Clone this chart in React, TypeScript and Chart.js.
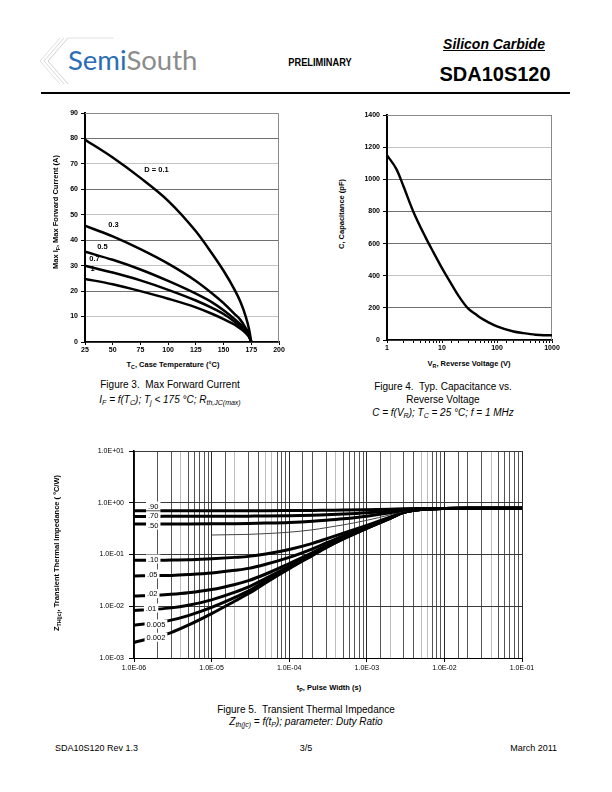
import React, { useEffect, useRef } from 'react';
import { Chart, registerables } from 'chart.js';
Chart.register(...registerables);

const FONT = '"Liberation Sans", Arial, Helvetica, sans-serif';

// ---------- Figure 3: Max forward current vs case temperature ----------
const T_CASE = [25, 50, 75, 100, 125, 140, 150, 160, 165, 170, 173, 175];
const IF_D01 = [79.5, 72.5, 64.5, 55.5, 43.5, 34.5, 28, 20.5, 16, 10, 5, 0];
const IF_D03 = [45.7, 41.5, 36.5, 30.8, 24, 19, 15.3, 11, 8.8, 5.5, 3, 0];
const IF_D05 = [35.5, 32.3, 28.5, 24, 19, 15.5, 12.5, 9, 7, 4.5, 2.5, 0];
const IF_D07 = [30, 27.3, 24.2, 20.5, 16.3, 13.3, 11, 8, 6.2, 4, 2.2, 0];
const IF_D1 = [24.8, 22.7, 20, 17, 13.6, 11, 9, 6.8, 5.3, 3.5, 2, 0];
const FIG3_LABELS = ['D = 0.1', '0.3', '0.5', '0.7', '1'];
const FIG3_LABEL_X = [78.5, 46, 36, 28.9, 30];
const FIG3_LABEL_Y = [67.6, 46, 37.5, 32.5, 28.6];

// ---------- Figure 4: Capacitance vs reverse voltage ----------
const V_REV = [1, 1.5, 2, 3, 5, 7, 10, 15, 20, 30, 40, 50, 70, 100, 200, 300, 500, 700, 1000];
const C_PF = [1150, 1060, 955, 800, 640, 545, 447, 345, 275, 195, 163, 138, 110, 85, 53, 43, 33, 30, 30];

// ---------- Figure 5: Transient thermal impedance ----------
const T_PULSE = [1e-6, 2e-6, 3e-6, 5e-6, 1e-5, 2e-5, 3e-5, 5e-5, 1e-4, 2e-4, 3e-4, 5e-4, 1e-3, 2e-3, 3e-3, 5e-3, 1e-2, 2e-2, 5e-2, 1e-1];
const Z_090 = [0.700, 0.700, 0.700, 0.701, 0.701, 0.702, 0.703, 0.704, 0.707, 0.711, 0.716, 0.722, 0.734, 0.752, 0.765, 0.774, 0.778, 0.78, 0.78, 0.78];
const Z_070 = [0.545, 0.545, 0.546, 0.546, 0.547, 0.549, 0.551, 0.554, 0.562, 0.575, 0.587, 0.606, 0.642, 0.696, 0.738, 0.767, 0.777, 0.78, 0.78, 0.78];
const Z_050 = [0.388, 0.389, 0.389, 0.390, 0.392, 0.395, 0.398, 0.404, 0.416, 0.438, 0.458, 0.490, 0.550, 0.640, 0.712, 0.758, 0.776, 0.78, 0.78, 0.78];
const Z_030 = [null, null, null, null, 0.238, 0.242, 0.245, 0.253, 0.270, 0.300, 0.330, 0.374, 0.458, 0.584, 0.686, 0.750, 0.775, 0.78, 0.78, 0.78];
const Z_010 = [0.077, 0.077, 0.078, 0.079, 0.083, 0.088, 0.092, 0.102, 0.125, 0.164, 0.200, 0.258, 0.366, 0.528, 0.663, 0.744, 0.775, 0.78, 0.78, 0.78];
const Z_005 = [0.0385, 0.0390, 0.0395, 0.0410, 0.0440, 0.0495, 0.054, 0.065, 0.088, 0.129, 0.167, 0.229, 0.343, 0.514, 0.656, 0.742, 0.775, 0.78, 0.78, 0.78];
const Z_002 = [0.0158, 0.0164, 0.0170, 0.0182, 0.0210, 0.0264, 0.0313, 0.0420, 0.067, 0.109, 0.148, 0.212, 0.330, 0.505, 0.652, 0.740, 0.775, 0.78, 0.78, 0.78];
const Z_001 = [0.0083, 0.0088, 0.0093, 0.0105, 0.0133, 0.0187, 0.0236, 0.0345, 0.059, 0.102, 0.141, 0.206, 0.325, 0.502, 0.650, 0.740, 0.775, 0.78, 0.78, 0.78];
const Z_0005 = [0.0043, 0.0049, 0.0054, 0.0066, 0.0095, 0.0148, 0.0198, 0.031, 0.056, 0.098, 0.138, 0.203, 0.322, 0.500, 0.650, 0.740, 0.775, 0.78, 0.78, 0.78];
const Z_0002 = [0.0020, 0.0026, 0.0031, 0.0043, 0.0072, 0.0126, 0.0176, 0.0285, 0.053, 0.096, 0.136, 0.200, 0.320, 0.500, 0.650, 0.740, 0.775, 0.78, 0.78, 0.78];
const DUTY_LABELS = ['.90', '.70', '.50', '.10', '.05', '.02', '.01', '0.005', '0.002'];
const DUTY_LABEL_T = [1.77e-6, 1.77e-6, 1.77e-6, 1.77e-6, 1.72e-6, 1.72e-6, 1.66e-6, 1.92e-6, 1.92e-6];
const DUTY_LABEL_Z = [0.865, 0.562, 0.372, 0.0818, 0.042, 0.0175, 0.00925, 0.00454, 0.00251];
const LIGHT_GRID_T = [4e-6, 2e-5, 5e-5, 6e-5, 4e-4, 2e-3, 5e-3, 6e-3, 4e-2];

// ---------- helpers ----------
const isDecade = (v: number) => {
  const l = Math.log10(v);
  return Math.abs(l - Math.round(l)) < 1e-6;
};
const near = (a: number, b: number) => Math.abs(a - b) / b < 1e-6;
const fmtE = (v: number) => {
  const e = Math.round(Math.log10(v));
  const a = Math.abs(e);
  return '1.0E' + (e >= 0 ? '+' : '-') + (a < 10 ? '0' : '') + a;
};

const series = (xs: number[], ys: (number | null)[], width = 2.5, color = '#000') => ({
  data: xs.map((x, i) => ({ x, y: ys[i] })),
  borderColor: color,
  borderWidth: width,
  pointRadius: 0,
  fill: false,
  cubicInterpolationMode: 'monotone',
  spanGaps: false,
});

const framePlugin = (color: string) => ({
  id: 'frame',
  beforeDatasetsDraw(chart: any) {
    const { ctx, chartArea: a } = chart;
    ctx.save();
    ctx.strokeStyle = color;
    ctx.lineWidth = 1;
    ctx.beginPath();
    ctx.moveTo(a.left, a.top + 0.5);
    ctx.lineTo(a.right - 0.5, a.top + 0.5);
    ctx.lineTo(a.right - 0.5, a.bottom);
    ctx.stroke();
    ctx.restore();
  },
});

const fig3Labels = {
  id: 'fig3labels',
  beforeDatasetsDraw(chart: any) {
    const { ctx, scales } = chart;
    ctx.save();
    ctx.font = 'bold 7.5px ' + FONT;
    ctx.fillStyle = '#000';
    ctx.textAlign = 'left';
    ctx.textBaseline = 'middle';
    FIG3_LABELS.forEach((t, i) => {
      ctx.fillText(t, scales.x.getPixelForValue(FIG3_LABEL_X[i]), scales.y.getPixelForValue(FIG3_LABEL_Y[i]));
    });
    ctx.restore();
  },
};

const fig5Labels = {
  id: 'fig5labels',
  afterDatasetsDraw(chart: any) {
    const { ctx, scales } = chart;
    ctx.save();
    ctx.font = '7.5px ' + FONT;
    ctx.textAlign = 'center';
    ctx.textBaseline = 'middle';
    DUTY_LABELS.forEach((t, i) => {
      const px = scales.x.getPixelForValue(DUTY_LABEL_T[i]);
      const py = scales.y.getPixelForValue(DUTY_LABEL_Z[i]);
      const w = ctx.measureText(t).width;
      ctx.fillStyle = '#fff';
      ctx.fillRect(px - w / 2 - 2, py - 4.5, w + 4, 9);
      ctx.fillStyle = '#000';
      ctx.fillText(t, px, py + 0.5);
    });
    ctx.restore();
  },
};

function ChartBox({ left, top, width, height, make }: any) {
  const ref = useRef<HTMLCanvasElement | null>(null);
  useEffect(() => {
    const c = new Chart(ref.current as HTMLCanvasElement, make());
    return () => c.destroy();
  }, []);
  return (
    <canvas
      ref={ref}
      width={width}
      height={height}
      style={{ position: 'absolute', left, top, width, height }}
    />
  );
}

const tickFontBold = { family: FONT, size: 7, weight: 'bold' };
const tickFont = { family: FONT, size: 7 };
const plain = (v: any) => String(v);

const makeFig3 = () => ({
  type: 'line',
  data: {
    datasets: [IF_D01, IF_D03, IF_D05, IF_D07, IF_D1].map((d) => series(T_CASE, d, 2.5)),
  },
  options: {
    animation: false,
    responsive: false,
    layout: { padding: { top: 8, right: 11, left: 0, bottom: 0 } },
    plugins: { legend: { display: false }, tooltip: { enabled: false } },
    scales: {
      x: {
        type: 'linear',
        min: 25,
        max: 200,
        ticks: { stepSize: 25, font: tickFontBold, color: '#000', padding: 1, maxRotation: 0, callback: plain },
        grid: { drawOnChartArea: false, tickLength: 3, tickColor: '#000' },
        border: { color: '#000', width: 1.5 },
        afterFit: (s: any) => { s.height = 13; },
      },
      y: {
        min: 0,
        max: 90,
        ticks: { stepSize: 10, font: tickFontBold, color: '#000', padding: 3, callback: plain },
        grid: {
          color: (c: any) => (Math.round(c.tick.value / 10) % 2 === 1 ? '#c4c4c4' : '#707070'),
          tickLength: 4,
          tickColor: '#000',
        },
        border: { color: '#000', width: 2 },
        afterFit: (s: any) => { s.width = 45; },
      },
    },
  },
  plugins: [framePlugin('#8a8a8a'), fig3Labels],
});

const makeFig4 = () => ({
  type: 'line',
  data: { datasets: [series(V_REV, C_PF, 2.4)] },
  options: {
    animation: false,
    responsive: false,
    layout: { padding: { top: 10, right: 13, left: 0, bottom: 0 } },
    plugins: { legend: { display: false }, tooltip: { enabled: false } },
    scales: {
      x: {
        type: 'logarithmic',
        min: 1,
        max: 1000,
        ticks: {
          autoSkip: false,
          maxRotation: 0,
          font: tickFontBold,
          color: '#000',
          padding: 1,
          callback: (v: any) => (isDecade(Number(v)) ? String(Math.round(Number(v))) : ''),
        },
        grid: { drawOnChartArea: false, tickLength: 3, tickColor: '#000' },
        border: { color: '#000', width: 1.5 },
        afterFit: (s: any) => { s.height = 15; },
      },
      y: {
        min: 0,
        max: 1400,
        ticks: { stepSize: 200, font: tickFontBold, color: '#000', padding: 3, callback: plain },
        grid: {
          color: (c: any) => (c.tick.value === 400 || c.tick.value === 1200 ? '#c4c4c4' : '#707070'),
          tickLength: 4,
          tickColor: '#000',
        },
        border: { color: '#000', width: 2 },
        afterFit: (s: any) => { s.width = 37; },
      },
    },
  },
  plugins: [framePlugin('#8a8a8a')],
});

const makeFig5 = () => ({
  type: 'line',
  data: {
    datasets: [
      series(T_PULSE, Z_090, 3),
      series(T_PULSE, Z_070, 3),
      series(T_PULSE, Z_050, 3),
      series(T_PULSE, Z_030, 1, '#444'),
      series(T_PULSE, Z_010, 3),
      series(T_PULSE, Z_005, 3),
      series(T_PULSE, Z_002, 3),
      series(T_PULSE, Z_001, 3),
      series(T_PULSE, Z_0005, 3),
      series(T_PULSE, Z_0002, 3),
    ],
  },
  options: {
    animation: false,
    responsive: false,
    layout: { padding: { top: 11, right: 18, left: 0, bottom: 0 } },
    plugins: { legend: { display: false }, tooltip: { enabled: false } },
    scales: {
      x: {
        type: 'logarithmic',
        min: 1e-6,
        max: 1e-1,
        ticks: {
          autoSkip: false,
          maxRotation: 0,
          font: tickFont,
          color: '#000',
          padding: 2,
          callback: (v: any) => (isDecade(Number(v)) ? fmtE(Number(v)) : ''),
        },
        grid: {
          color: (c: any) => {
            const v = c.tick.value;
            if (isDecade(v)) return '#2a2a2a';
            if (LIGHT_GRID_T.some((t) => near(v, t))) return '#bdbdbd';
            return '#555';
          },
          lineWidth: 1,
          tickLength: 4,
          tickColor: (c: any) => (isDecade(c.tick.value) ? '#000' : 'rgba(0,0,0,0)'),
        },
        border: { color: '#000', width: 1 },
        afterFit: (s: any) => { s.height = 17; },
      },
      y: {
        type: 'logarithmic',
        min: 1e-3,
        max: 10,
        ticks: {
          autoSkip: false,
          font: tickFont,
          color: '#000',
          padding: 5,
          callback: (v: any) => (isDecade(Number(v)) ? fmtE(Number(v)) : ''),
        },
        grid: {
          color: (c: any) => (isDecade(c.tick.value) ? '#3a3a3a' : 'rgba(0,0,0,0)'),
          tickLength: 5,
          tickColor: (c: any) => (isDecade(c.tick.value) ? '#000' : 'rgba(0,0,0,0)'),
        },
        border: { color: '#000', width: 1.5 },
        afterFit: (s: any) => { s.width = 64; },
      },
    },
  },
  plugins: [fig5Labels],
});

const abs = (style: any): any => ({
  position: 'absolute',
  fontFamily: FONT,
  whiteSpace: 'nowrap',
  lineHeight: 1,
  color: '#000',
  ...style,
});
const center = (cx: number, cy: number, extra: any = {}) =>
  abs({ left: cx, top: cy, transform: 'translate(-50%,-50%)', ...extra });
const vcenter = (cx: number, cy: number, extra: any = {}) =>
  abs({ left: cx, top: cy, transform: 'translate(-50%,-50%) rotate(-90deg)', ...extra });

const Sub = ({ children }: any) => (
  <span style={{ fontSize: '70%', position: 'relative', top: '0.3em' }}>{children}</span>
);

export default function App() {
  const axisTitle = { fontSize: 7.5, fontWeight: 'bold' };
  const cap = { fontSize: 10 };
  const capI = { fontSize: 10, fontStyle: 'italic' };
  return (
    <div style={{ position: 'absolute', left: 0, top: 0, width: 612, height: 792, background: '#fff', overflow: 'hidden' }}>
      {/* Header */}
      <svg width={80} height={60} style={{ position: 'absolute', left: 34, top: 34 }}>
        <polyline points="34,4 14,27 34,50" fill="none" stroke="#d0d0d0" strokeWidth={1} />
        <polyline points="30,4 10,27 30,50" fill="none" stroke="#d8d8d8" strokeWidth={1} />
        <polyline points="26,4 6,27 26,50" fill="none" stroke="#e0e0e0" strokeWidth={1} />
        <line x1={34} y1={4} x2={80} y2={4} stroke="#e0e0e0" strokeWidth={1} />
      </svg>
      <div style={abs({ left: 68, top: 46, fontFamily: 'Lato, "Open Sans", sans-serif', fontSize: 27.5 })}>
        <span style={{ color: '#2a6db5' }}>Semi</span>
        <span style={{ color: '#8c8c8c' }}>South</span>
      </div>
      <div style={center(319.5, 62, { fontSize: 10.5, fontWeight: 'bold', transform: 'translate(-50%,-50%) scaleX(0.88)' })}>
        PRELIMINARY
      </div>
      <div style={center(494, 44, { fontSize: 14, fontWeight: 'bold', fontStyle: 'italic', textDecoration: 'underline' })}>
        Silicon Carbide
      </div>
      <div style={center(495, 74, { fontSize: 20, fontWeight: 'bold' })}>SDA10S120</div>
      <div style={{ position: 'absolute', left: 41, top: 91.5, width: 529, height: 2.5, background: '#000' }} />

      {/* Figure 3 */}
      <ChartBox left={40} top={105} width={250} height={250} make={makeFig3} />
      <div style={center(173, 365, axisTitle)}>
        T<Sub>C</Sub>, Case Temperature (°C)
      </div>
      <div style={vcenter(56, 212, axisTitle)}>
        Max I<Sub>F</Sub>, Max Forward Current (A)
      </div>
      <div style={center(170, 385, cap)}>Figure 3.&nbsp; Max Forward Current</div>
      <div style={center(170, 400, capI)}>
        I<Sub>F</Sub> = f(T<Sub>C</Sub>); T<Sub>j</Sub> &lt; 175 °C; R<Sub>th,JC(max)</Sub>
      </div>

      {/* Figure 4 */}
      <ChartBox left={350} top={105} width={215} height={250} make={makeFig4} />
      <div style={center(469, 364, axisTitle)}>
        V<Sub>R</Sub>, Reverse Voltage (V)
      </div>
      <div style={vcenter(342, 214, axisTitle)}>C, Capacitance (pF)</div>
      <div style={center(443, 387, cap)}>Figure 4.&nbsp; Typ. Capacitance vs.</div>
      <div style={center(443, 400, cap)}>Reverse Voltage</div>
      <div style={center(443, 413, capI)}>
        C = f(V<Sub>R</Sub>); T<Sub>C</Sub> = 25 °C; f = 1 MHz
      </div>

      {/* Figure 5 */}
      <ChartBox left={70} top={440} width={470} height={235} make={makeFig5} />
      <div style={center(329, 688, axisTitle)}>
        t<Sub>P</Sub>, Pulse Width (s)
      </div>
      <div style={vcenter(57, 553, axisTitle)}>
        Z<Sub>TH(jc)</Sub>, Transient Thermal Impedance ( ºC/W)
      </div>
      <div style={center(306, 710, cap)}>Figure 5.&nbsp; Transient Thermal Impedance</div>
      <div style={center(306, 722, capI)}>
        Z<Sub>th(jc)</Sub> = f(t<Sub>P</Sub>); parameter: Duty Ratio
      </div>

      {/* Footer */}
      <div style={abs({ left: 55, top: 744, fontSize: 9 })}>SDA10S120 Rev 1.3</div>
      <div style={center(306, 748, { fontSize: 9 })}>3/5</div>
      <div style={abs({ right: 55, top: 744, fontSize: 9 })}>March 2011</div>
    </div>
  );
}
